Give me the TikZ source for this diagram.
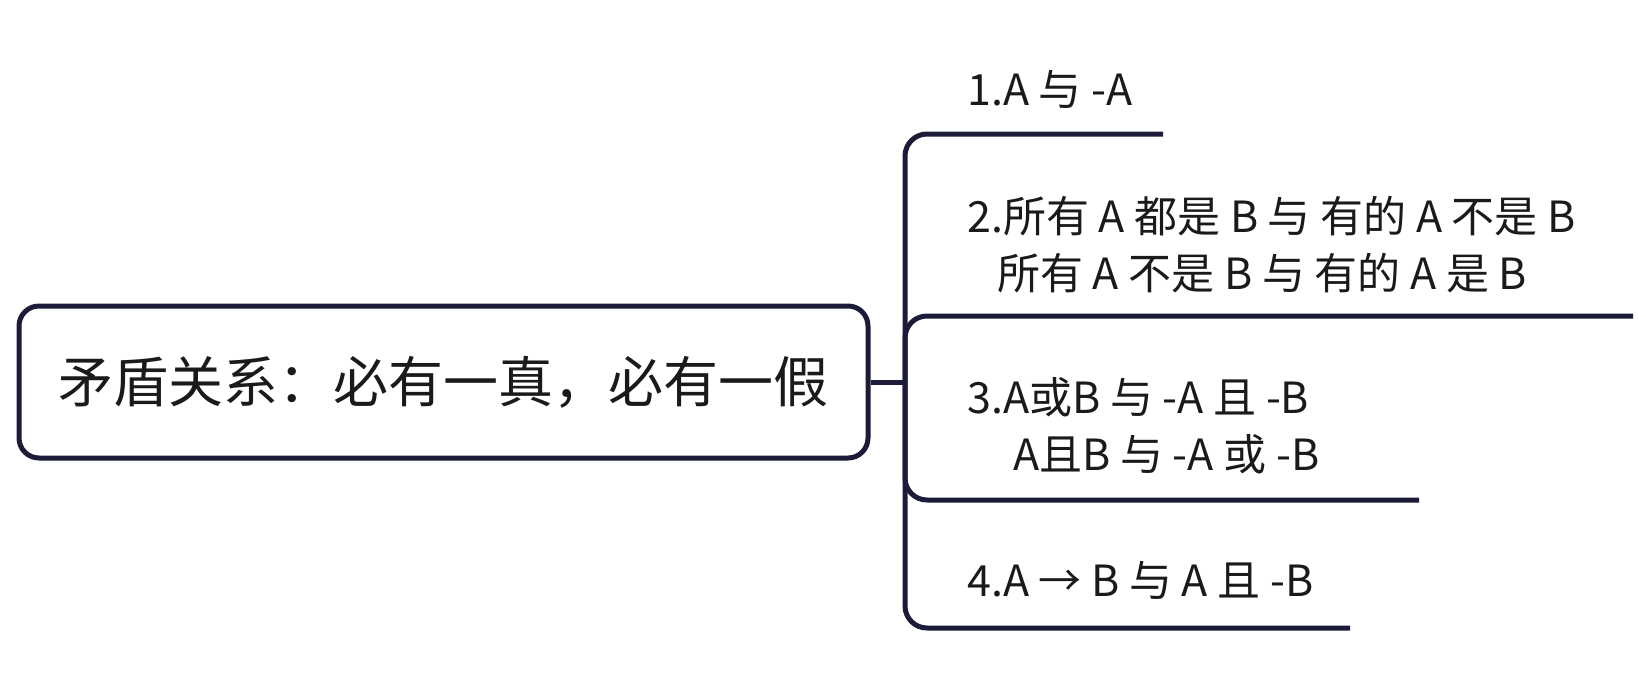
\documentclass[tikz,border=0pt]{standalone}
\usepackage{fontspec}
\setmainfont{Noto Sans CJK SC}
\definecolor{linec}{HTML}{1C1C38}
\definecolor{textc}{HTML}{1A1A1A}
\begin{document}
\begin{tikzpicture}[x=1pt,y=-1pt,
  rootbox/.style={draw=linec, line width=5pt, rounded corners=20pt, minimum width=849pt, minimum height=152pt, inner sep=0pt, text=textc, font=\fontsize{55}{60}\selectfont},
  leaf/.style={anchor=west, align=left, inner sep=0pt, text=textc, font=\fontsize{43}{57}\selectfont},
  conn/.style={draw=linec, line width=5pt, rounded corners=22pt}]
\useasboundingbox (0,0) rectangle (1639,677);
\node[rootbox] (root) at (443.5,382) {矛盾关系：必有一真，必有一假};
\coordinate (j) at (905,382);
\coordinate (e1) at (1163,134);
\coordinate (e2) at (1633,316);
\coordinate (e3) at (1419,500);
\coordinate (e4) at (1350,628);
\node[leaf] (t1) at (967,89) {1.A 与 -A};
\node[leaf] (t2) at (967,245) {2.所有 A 都是 B 与 有的 A 不是 B\\\hspace*{30pt}所有 A 不是 B 与 有的 A 是 B};
\node[leaf] (t3) at (967,426) {3.A或B 与 -A 且 -B\\\hspace*{46pt}A且B 与 -A 或 -B};
\node[leaf] (t4) at (967,580) {4.A → B 与 A 且 -B};
\draw[draw=linec, line width=5pt] (root.east) -- (j);
\draw[conn] (j) |- (e1);
\draw[conn] (j) |- (e2);
\draw[conn] (j) |- (e3);
\draw[conn] (j) |- (e4);
\end{tikzpicture}
\end{document}
